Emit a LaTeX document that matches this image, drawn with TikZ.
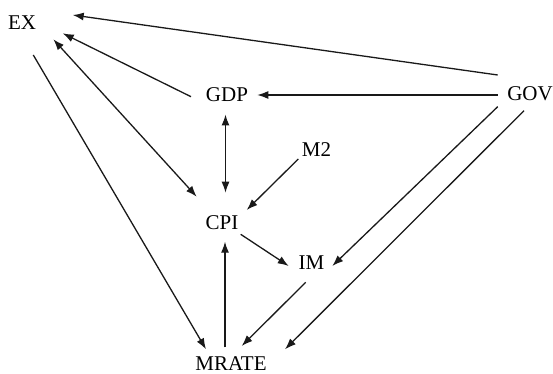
\documentclass[tikz,border=0pt]{standalone}
\usepackage{fontspec}
\setmainfont{Liberation Serif}
\usetikzlibrary{arrows.meta}
\usetikzlibrary{calc}

\begin{document}
\begin{tikzpicture}[x=1pt, y=-1pt,
    var/.style={inner sep=0pt, font=\fontsize{21}{25}\selectfont},
    link/.style={-{Latex[length=11pt, width=8pt]}, line width=1.3pt, black!90},
    both/.style={{Latex[length=11pt, width=8pt]}-{Latex[length=11pt, width=8pt]}, line width=1.3pt, black!90}]
    \useasboundingbox (0,0) rectangle (553,374);
    % variables
    \node[var] (ex) at (22,23) {EX};
    \node[var] (gdp) at (227,94.5) {GDP};
    \node[var] (gov) at (530,94) {GOV};
    \node[var] (m2) at (316.5,150) {M2};
    \node[var] (cpi) at (222,222.5) {CPI};
    \node[var] (im) at (311.5,263) {IM};
    \node[var] (mrate) at (231,363.5) {MRATE};
    % links
    \draw[link] ($(gov)+(-32.3,-19)$) -- ($(ex)+(50.7,-8)$);
    \draw[link] ($(gdp)+(-36,2.2)$) -- ($(ex)+(40.7,10.3)$);
    \draw[both] ($(ex)+(31.3,16.3)$) -- ($(cpi)+(-25.3,-25.8)$);
    \draw[link] ($(ex)+(11.3,32)$) -- ($(mrate)+(-25,-14.2)$);
    \draw[link] ($(gov)+(-32.3,1)$) -- ($(gdp)+(30.3,0.5)$);
    \draw[both] ($(gdp)+(-1.5,20)$) -- ($(cpi)+(3.5,-29.8)$);
    \draw[link] ($(m2)+(-18.2,9)$) -- ($(cpi)+(24.7,-12.5)$);
    \draw[link] ($(cpi)+(18.7,11.8)$) -- ($(im)+(-22.8,3)$);
    \draw[link] ($(gov)+(-32.3,12.7)$) -- ($(im)+(20.8,3)$);
    \draw[link] ($(gov)+(-6,16.7)$) -- ($(mrate)+(54,-14.2)$);
    \draw[link] ($(im)+(-5.8,19.3)$) -- ($(mrate)+(10.7,-17.5)$);
    \draw[link] ($(mrate)+(-6,-16.2)$) -- ($(cpi)+(3,19.2)$);
\end{tikzpicture}
\end{document}
